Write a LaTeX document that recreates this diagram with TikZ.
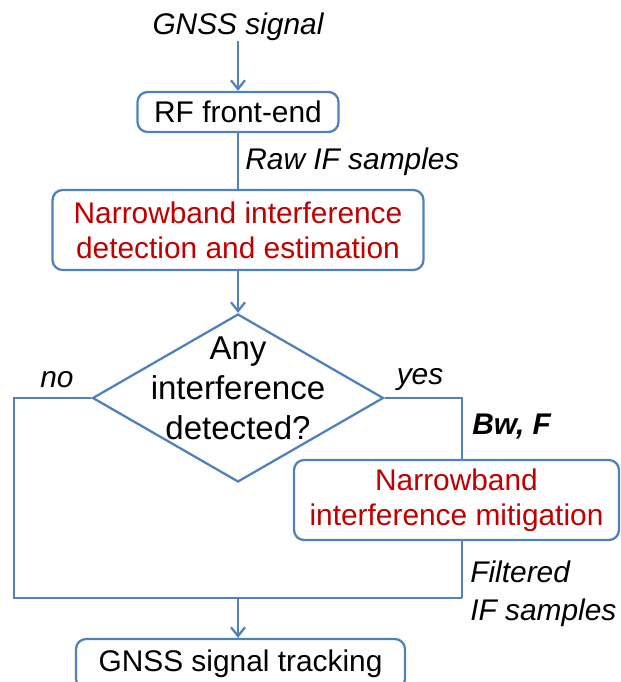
\documentclass[tikz,border=0pt]{standalone}
\usepackage{fontspec}
\setmainfont{Liberation Sans}
\usetikzlibrary{arrows.meta,shapes.geometric}
\definecolor{lineblue}{RGB}{79,129,189}
\definecolor{textred}{RGB}{192,0,0}
\tikzset{>={Straight Barb[length=5pt,width=8pt]}}
\tikzstyle{block}=[rectangle,draw=lineblue,line width=1.3pt,rounded corners=0.2cm,align=center,inner sep=0pt,font=\fontsize{17}{20}\selectfont]
\tikzstyle{decision}=[diamond,draw=lineblue,line width=1.3pt,inner sep=0pt,minimum width=5.82cm,minimum height=3.36cm]
\tikzstyle{wire}=[draw=lineblue,line width=1.3pt]
\tikzstyle{lbl}=[inner sep=0pt,font=\fontsize{17}{21.6}\selectfont\itshape]

\begin{document}
\begin{tikzpicture}[x=0.02cm,y=0.02cm]
\useasboundingbox (0,0) rectangle (621,-682);

\node[lbl] (gnss) at (238,-27) {GNSS signal};

\node[block,minimum width=4.02cm,minimum height=0.8cm] (rf) at (238,-112) {RF front-end};
\node[block,text=textred,minimum width=7.42cm,minimum height=1.6cm] (nbd)
	at (238,-230) {Narrowband interference\\detection and estimation};
\node[decision] (ask) at (238,-398) {};
\node[align=center,inner sep=0pt,font=\fontsize{18.8}{22.8}\selectfont] (asktxt)
	at ([yshift=0.2cm]ask.center) {Any\\interference\\detected?};
\node[block,text=textred,minimum width=6.5cm,minimum height=1.6cm] (mit)
	at (456.5,-500) {Narrowband\\interference mitigation};
\node[block,minimum width=6.58cm,minimum height=1cm] (track) at (240.5,-664) {GNSS signal tracking};

\draw[wire,->] (gnss) -- (rf);
\draw[wire] (rf) -- (nbd);
\draw[wire,->] (nbd) -- (ask);

\coordinate (lft) at (14,-398);
\coordinate (rcol) at (462,-398);
\coordinate (join) at (462,-598);
\coordinate (merge) at (238,-598);

\draw[wire] (ask.east) -- (rcol) -- (rcol |- mit.north);
\draw[wire] (rcol |- mit.south) -- (join);
\draw[wire] (ask.west) -- (lft) |- (join);
\draw[wire,->] (merge) -- (merge |- track.north);

% labels
\node[lbl,anchor=west] (raw) at (245,-162) {Raw IF samples};
\node[lbl] (no) at (57,-380) {no};
\node[lbl] (yes) at (420,-380) {yes};
\node[lbl,anchor=west,font=\fontsize{17}{21.6}\selectfont\bfseries\itshape] (bwf) at (472,-427) {Bw, F};
\node[lbl,anchor=west,align=left] (filt) at (470,-594) {Filtered\\IF samples};

\end{tikzpicture}
\end{document}
